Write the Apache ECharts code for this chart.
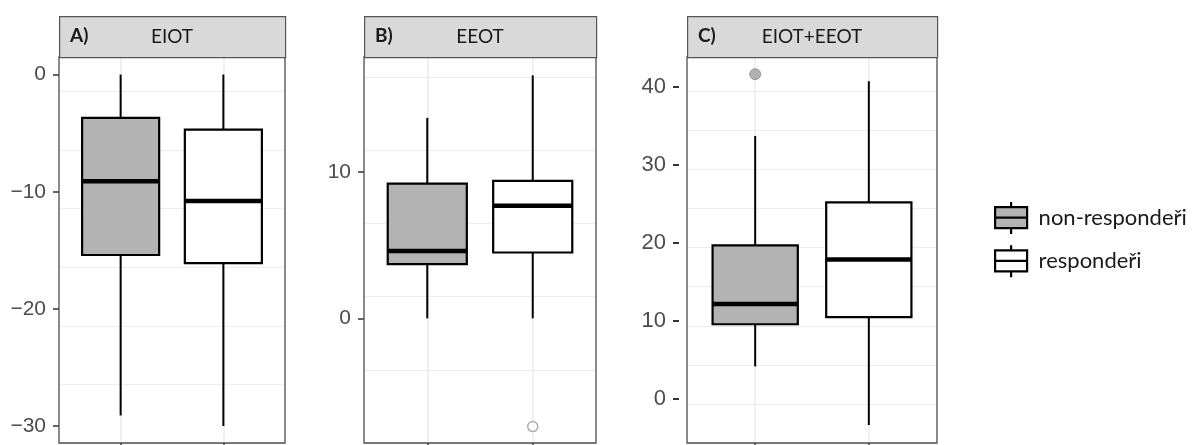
<!DOCTYPE html>
<html>
<head>
<meta charset="utf-8">
<script src="https://cdn.jsdelivr.net/npm/echarts@6/dist/echarts.min.js"></script>
<style>html,body{margin:0;padding:0;background:#fff}#c{width:1192px;height:445px}</style>
</head>
<body>
<div id="c"></div>
<script>
// ---- data ----
const panelTitles = ['EIOT', 'EEOT', 'EIOT+EEOT'];
const panelTags = ['A)', 'B)', 'C)'];
const groups = ['non-respondeři', 'respondeři'];
const groupPos = [1, 2];
// [lower whisker, Q1, median, Q3, upper whisker]
const boxA_non = [-29.1, -15.4, -9.1, -3.7, 0];
const boxA_resp = [-30.0, -16.1, -10.8, -4.7, 0];
const boxB_non = [0, 3.7, 4.6, 9.2, 13.7];
const boxB_resp = [0, 4.5, 7.7, 9.4, 16.6];
const boxC_non = [4.2, 9.6, 12.2, 19.7, 33.7];
const boxC_resp = [-3.3, 10.5, 17.9, 25.2, 40.7];
const outB_resp = [-7.4];
const outC_non = [41.6];
const yTicksA = [-30, -20, -10, 0];
const yTicksB = [0, 10];
const yTicksC = [0, 10, 20, 30, 40];
const yRangeA = [-31.45, 1.5];
const yRangeB = [-8.52, 17.86];
const yRangeC = [-5.6, 43.8];

// ---- layout ----
const grids = [
  {left: 59, top: 57, width: 226, height: 386},
  {left: 364, top: 57, width: 232, height: 386},
  {left: 687, top: 57, width: 250, height: 386}
];
const fills = ['#b3b3b3', '#ffffff'];
const boxes = [[boxA_non, boxA_resp], [boxB_non, boxB_resp], [boxC_non, boxC_resp]];
const yTicks = [yTicksA, yTicksB, yTicksC];
const yRanges = [yRangeA, yRangeB, yRangeC];

function renderBox(params, api) {
  const x = api.value(0);
  const lo = api.coord([x, api.value(1)]);
  const q1 = api.coord([x, api.value(2)]);
  const med = api.coord([x, api.value(3)]);
  const q3 = api.coord([x, api.value(4)]);
  const hi = api.coord([x, api.value(5)]);
  const left = api.coord([x - 0.375, api.value(2)])[0];
  const right = api.coord([x + 0.375, api.value(2)])[0];
  const fill = api.visual('color');
  return {
    type: 'group',
    children: [
      {type: 'line', shape: {x1: lo[0], y1: lo[1], x2: q1[0], y2: q1[1]}, style: {stroke: '#000', lineWidth: 2}},
      {type: 'line', shape: {x1: q3[0], y1: q3[1], x2: hi[0], y2: hi[1]}, style: {stroke: '#000', lineWidth: 2}},
      {type: 'rect', shape: {x: left, y: q3[1], width: right - left, height: q1[1] - q3[1]}, style: {fill: fill, stroke: '#000', lineWidth: 2.2}},
      {type: 'line', shape: {x1: left, y1: med[1], x2: right, y2: med[1]}, style: {stroke: '#000', lineWidth: 4.5}}
    ]
  };
}

const xAxis = [], yAxis = [], series = [], graphic = [];
grids.forEach((g, i) => {
  xAxis.push({
    type: 'value', gridIndex: i, min: 0.4, max: 2.6, interval: 1,
    position: 'bottom',
    axisLine: {show: false, onZero: false},
    axisLabel: {show: false},
    axisTick: {show: true, customValues: groupPos, length: 5, lineStyle: {color: '#333', width: 1.5}},
    splitLine: {show: true, lineStyle: {color: '#ebebeb', width: 1.5}}
  });
  const fs = i === 2 ? 22 : 21;
  yAxis.push({
    type: 'value', gridIndex: i, min: yRanges[i][0], max: yRanges[i][1], interval: 10,
    offset: i === 2 ? 8 : 0,
    axisLine: {show: false, onZero: false},
    axisTick: {show: true, customValues: yTicks[i], length: 6, lineStyle: {color: '#333', width: i === 2 ? 2 : 1.5}},
    axisLabel: {show: true, customValues: yTicks[i], margin: 13, color: '#4d4d4d', fontSize: fs, fontFamily: 'Liberation Sans',
      formatter: v => (v < 0 ? '\u2212' + Math.abs(v) : String(v))},
    splitLine: {show: false}
  });
  yAxis.push({
    type: 'value', gridIndex: i, min: yRanges[i][0], max: yRanges[i][1], interval: 5,
    axisLine: {show: false, onZero: false}, axisTick: {show: false}, axisLabel: {show: false},
    splitLine: {show: true, lineStyle: {color: '#ededed', width: 1.2}}
  });
  groups.forEach((name, k) => {
    series.push({
      type: 'custom', name: name, xAxisIndex: i, yAxisIndex: i * 2,
      itemStyle: {color: fills[k], borderColor: '#000', borderWidth: 2},
      renderItem: renderBox,
      encode: {x: 0, y: [1, 2, 3, 4, 5]},
      data: [[groupPos[k]].concat(boxes[i][k])],
      z: 3
    });
  });
  graphic.push({
    type: 'rect', left: g.left, top: 16,
    shape: {width: g.width, height: 41},
    style: {fill: '#d9d9d9', stroke: '#555', lineWidth: 1.2}, z: 10
  });
  graphic.push({
    type: 'text', left: g.left + 11, top: 26,
    style: {text: panelTags[i], fill: '#1a1a1a', font: 'bold 19px Lato'}, z: 11
  });
  graphic.push({
    type: 'text', x: g.left + g.width / 2, y: 37,
    style: {text: panelTitles[i], fill: '#1a1a1a', font: '19px Lato', align: 'center', verticalAlign: 'middle'}, z: 11
  });
});

series.push({
  type: 'scatter', name: 'outlierB', xAxisIndex: 1, yAxisIndex: 2,
  symbol: 'circle', symbolSize: 10,
  itemStyle: {color: '#fff', borderColor: '#9a9a9a', borderWidth: 1.5},
  data: outB_resp.map(v => [groupPos[1], v]), z: 4
});
series.push({
  type: 'scatter', name: 'outlierC', xAxisIndex: 2, yAxisIndex: 4,
  symbol: 'circle', symbolSize: 11,
  itemStyle: {color: '#a0a0a0', borderColor: '#8a8a8a', borderWidth: 1},
  data: outC_non.map(v => [groupPos[0], v]), z: 4
});

const iconPath = 'path://M17,0L17,5M1,5L33,5L33,26L1,26ZM1,15.5L33,15.5M17,26L17,32';

const option = {
  animation: false,
  backgroundColor: '#fff',
  grid: grids.map(g => Object.assign({show: true, borderColor: '#4d4d4d', borderWidth: 1.3, backgroundColor: 'transparent', z: 5}, g)),
  xAxis: xAxis,
  yAxis: yAxis,
  series: series,
  graphic: graphic,
  legend: {
    orient: 'vertical', left: 989, top: 196,
    itemWidth: 33, itemHeight: 32, itemGap: 9,
    selectedMode: false,
    textStyle: {fontSize: 22, color: '#1a1a1a', fontFamily: 'Lato', padding: [0, 0, 0, 6]},
    data: groups.map((n, k) => ({
      name: n, icon: iconPath,
      itemStyle: {color: fills[k], borderColor: '#000', borderWidth: 2.2}
    }))
  }
};
const chart = echarts.init(document.getElementById('c'), null, {renderer: 'canvas'});
chart.setOption(option);
</script>
</body>
</html>
